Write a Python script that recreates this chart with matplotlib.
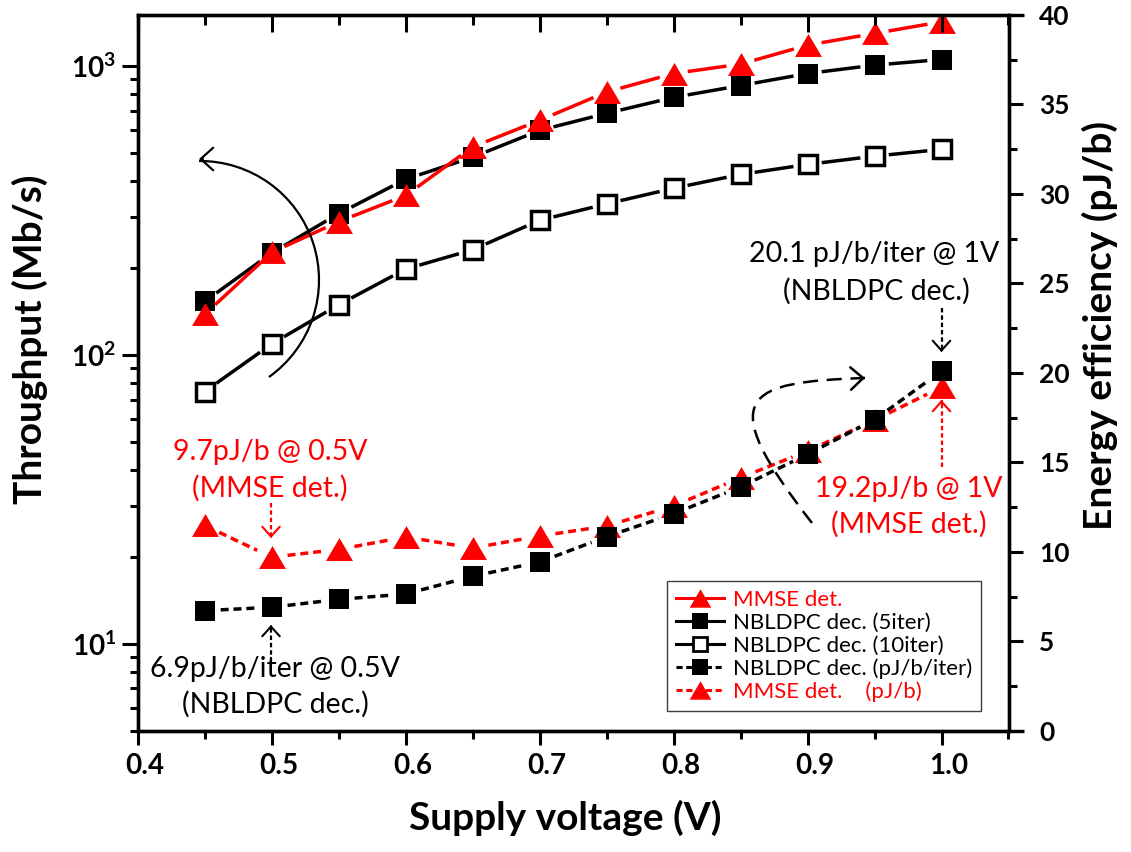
import numpy as np
import matplotlib
matplotlib.use("Agg")
import matplotlib.pyplot as plt
from matplotlib.lines import Line2D
from matplotlib.patches import FancyArrowPatch, PathPatch, ArrowStyle
from matplotlib.path import Path
from matplotlib.transforms import ScaledTranslation
from matplotlib.ticker import MultipleLocator, LogLocator, FuncFormatter, FormatStrFormatter

# ---------------- data ----------------
voltage = [0.45, 0.50, 0.55, 0.60, 0.65, 0.70, 0.75, 0.80, 0.85, 0.90, 0.95, 1.00]
throughput_mmse = [138, 226, 289, 356, 524, 648, 812, 941, 1014, 1180, 1295, 1421]
throughput_5iter = [153, 225, 308, 405, 483, 598, 685, 778, 855, 941, 1006, 1052]
throughput_10iter = [74.6, 109, 149, 198, 231, 292, 333, 377, 421, 456, 487, 514]
energy_nbldpc = [6.71, 6.90, 7.34, 7.64, 8.63, 9.43, 10.84, 12.13, 13.62, 15.45, 17.38, 20.1]
energy_mmse = [11.47, 9.70, 10.13, 10.83, 10.21, 10.88, 11.44, 12.56, 14.14, 15.63, 17.36, 19.2]
legend_labels = ['MMSE det.', 'NBLDPC dec. (5iter)', 'NBLDPC dec. (10iter)',
                 'NBLDPC dec. (pJ/b/iter)', 'MMSE det.    (pJ/b)']

# ---------------- style ----------------
W, H = 1131, 852
plt.rcParams['font.family'] = ['Lato', 'DejaVu Sans']
plt.rcParams['font.weight'] = 'bold'
plt.rcParams['mathtext.fontset'] = 'custom'
plt.rcParams['mathtext.rm'] = 'Lato'
plt.rcParams['mathtext.bf'] = 'Lato:bold'
plt.rcParams['axes.linewidth'] = 2.4

RED = '#ff0000'
fig = plt.figure(figsize=(W / 100, H / 100), dpi=100)
L, R, T, B = 137.7, 1008.5, 15.0, 730.7
ax = fig.add_axes([L / W, 1 - B / H, (R - L) / W, (B - T) / H])
ax2 = ax.twinx()

ax.set_xlim(0.4, 1.05)
ax.set_yscale('log')
ax.set_ylim(5, 1500)
ax2.set_ylim(0, 40)

ax.xaxis.set_major_locator(MultipleLocator(0.1))
ax.xaxis.set_minor_locator(MultipleLocator(0.05))
ax.xaxis.set_major_formatter(FormatStrFormatter('%.1f'))
ax.yaxis.set_major_locator(LogLocator(base=10, numticks=10))
ax.yaxis.set_minor_locator(LogLocator(base=10, subs=np.arange(2, 10), numticks=30))
ax.yaxis.set_major_formatter(FuncFormatter(lambda v, p: r'$\mathbf{10}^{%d}$' % round(np.log10(v))))
ax2.yaxis.set_major_locator(MultipleLocator(5))
ax2.yaxis.set_minor_locator(MultipleLocator(2.5))
ax2.yaxis.set_major_formatter(FormatStrFormatter('%d'))

ax.tick_params(axis='x', which='major', direction='out', length=10, width=2.2, labelsize=20, pad=6, top=False)
ax.tick_params(axis='x', which='minor', direction='out', length=5.5, width=2.2, top=False)
ax.tick_params(axis='y', which='major', direction='out', length=11.5, width=2.2, labelsize=20, pad=4)
ax.tick_params(axis='y', which='minor', direction='out', length=6, width=2.2)
ax2.tick_params(axis='y', which='major', direction='out', length=10, width=2.2, labelsize=19, pad=12)
ax2.tick_params(axis='y', which='minor', direction='out', length=5.5, width=2.2)
ax2.xaxis.set_visible(True)
ax2.tick_params(axis='x', which='major', direction='in', length=12.5, width=2.2,
                top=True, bottom=False, labeltop=False, labelbottom=False)
ax2.tick_params(axis='x', which='minor', direction='in', length=7, width=2.2,
                top=True, bottom=False, labeltop=False, labelbottom=False)

for sp in list(ax.spines.values()) + list(ax2.spines.values()):
    sp.set_linewidth(2.4)

# Origin-style offset of the x tick labels
for t in ax.xaxis.get_major_ticks():
    t.label1.set_transform(t.label1.get_transform() + ScaledTranslation(7 / 100, 0, fig.dpi_scale_trans))

# top / bottom frame lines extend a bit past the right axis
for yy in (0, 1):
    ax2.add_line(Line2D([1, 1 + 15 / (R - L)], [yy, yy], transform=ax2.transAxes, clip_on=False,
                        color='black', lw=2.4, solid_capstyle='butt'))

TRI = [(-1, -0.85), (1, -0.85), (0, 0.85)]


def gapped_line(axis, xs, ys, gap, **kw):
    pts = axis.transData.transform(np.column_stack([xs, ys]))
    inv = axis.transData.inverted()
    segs = []
    for p, q in zip(pts[:-1], pts[1:]):
        u = (q - p) / np.hypot(*(q - p))
        segs.append(inv.transform(np.array([p + u * gap, q - u * gap])))
        segs.append(np.array([[np.nan, np.nan]]))
    arr = np.vstack(segs)
    axis.plot(arr[:, 0], arr[:, 1], **kw)


GAP = 16
LW = 2.5
# throughput (left axis)
gapped_line(ax, voltage, throughput_10iter, GAP, color='black', lw=LW, zorder=2.0)
ax.plot(voltage, throughput_10iter, ls='none', marker='s', ms=13.1, mfc='white', mec='black', mew=2.5, zorder=2.1)
gapped_line(ax, voltage, throughput_5iter, GAP, color='black', lw=LW, zorder=2.2)
ax.plot(voltage, throughput_5iter, ls='none', marker='s', ms=15, mfc='black', mew=0, zorder=2.3)
gapped_line(ax, voltage, throughput_mmse, GAP, color=RED, lw=LW, zorder=2.4)
ax.plot(voltage, throughput_mmse, ls='none', marker=TRI, ms=19.4, mfc=RED, mew=0, zorder=2.5)

# energy efficiency (right axis)
DASH = (0, (2.3, 1.4))
gapped_line(ax2, voltage, energy_mmse, GAP, color=RED, lw=LW, ls=DASH, zorder=2.0)
ax2.plot(voltage, energy_mmse, ls='none', marker=TRI, ms=19.4, mfc=RED, mew=0, zorder=2.1)
gapped_line(ax2, voltage, energy_nbldpc, GAP, color='black', lw=LW, ls=DASH, zorder=2.2)
ax2.plot(voltage, energy_nbldpc, ls='none', marker='s', ms=15, mfc='black', mew=0, zorder=2.3)


# ---------------- annotations (pixel positions) ----------------
def P(x, y):
    return (x / W, 1 - y / H)


def head(tip, frm, color, lw=1.5, scale=14):
    fig.add_artist(FancyArrowPatch(posA=P(*frm), posB=P(*tip), transform=fig.transFigure,
                                   arrowstyle=ArrowStyle('->', head_length=0.5, head_width=0.45),
                                   mutation_scale=scale, lw=lw, color=color, shrinkA=0, shrinkB=0))


def dotted_arrow(x, y0, y1, color):
    fig.add_artist(Line2D([x / W, x / W], [1 - y0 / H, 1 - y1 / H], transform=fig.transFigure,
                          color=color, lw=1.6, linestyle=(0, (2, 1.3))))
    s = 1 if y1 > y0 else -1
    head((x, y1), (x, y1 - 3 * s), color)


def label(x, y, s, color):
    fig.text(*P(x, y), s, ha='center', va='baseline', fontsize=20.5, color=color, fontweight='normal')


label(270, 460, '9.7pJ/b @ 0.5V', RED)
label(270, 497, '(MMSE det.)', RED)
dotted_arrow(271, 503, 538, RED)

label(275, 677, '6.9pJ/b/iter @ 0.5V', 'black')
label(275, 713, '(NBLDPC dec.)', 'black')
dotted_arrow(271, 662, 625, 'black')

label(874, 262, '20.1 pJ/b/iter @ 1V', 'black')
label(876, 300, '(NBLDPC dec.)', 'black')
dotted_arrow(941.5, 308, 352, 'black')

label(909, 497, '19.2pJ/b @ 1V', RED)
label(909, 533, '(MMSE det.)', RED)
dotted_arrow(941.5, 467, 400, RED)

# solid arc arrow (throughput -> left axis)
cx, cy, rr = 200.0, H - 280.0, 119.0
arc = Path.arc(-54.6, 90.5)
av = arc.vertices * rr + np.array([cx, cy])
av = av / np.array([W, H])
fig.add_artist(PathPatch(Path(av, arc.codes), transform=fig.transFigure, fill=False, lw=1.6, color='black'))
head((199.0, 159.0), (203.0, 159.0), 'black', lw=1.6, scale=18)

# dashed curved arrow (energy -> right axis)
bz = [(812, 523), (712, 395), (745, 382), (865, 378)]
bv = np.array([P(*p) for p in bz])
fig.add_artist(PathPatch(Path(bv, [Path.MOVETO, Path.CURVE4, Path.CURVE4, Path.CURVE4]),
                         transform=fig.transFigure, fill=False, lw=1.8, color='black',
                         linestyle=(0, (6, 3.5))))
head((865, 378), (861, 378.15), 'black', lw=1.8, scale=18)

# axis labels
fig.text(*P(565, 830), 'Supply voltage (V)', ha='center', va='baseline', fontsize=28, fontweight='bold')
fig.text(*P(42, 339), 'Throughput (Mb/s)', rotation=90, rotation_mode='anchor', ha='center',
         va='baseline', fontsize=28, fontweight='bold')
fig.text(*P(1112, 325), 'Energy efficiency (pJ/b)', rotation=90, rotation_mode='anchor', ha='center',
         va='baseline', fontsize=28, fontweight='bold')

# legend
handles = [
    Line2D([], [], color=RED, lw=2.2, marker=TRI, ms=15.6, mew=0),
    Line2D([], [], color='black', lw=2.2, marker='s', ms=12, mew=0),
    Line2D([], [], color='black', lw=2.2, marker='s', ms=10, mfc='white', mec='black', mew=2),
    Line2D([], [], color='black', lw=2.2, ls=(0, (2, 1.2)), marker='s', ms=12, mew=0),
    Line2D([], [], color=RED, lw=2.2, ls=(0, (2, 1.2)), marker=TRI, ms=15.6, mew=0),
]
leg = ax2.legend(handles, legend_labels, loc='lower right',
                 bbox_to_anchor=((981 - L) / (R - L), (B - 711) / (B - T)), borderaxespad=0,
                 prop={'family': 'Lato', 'weight': 'normal', 'size': 16}, frameon=True, fancybox=False,
                 edgecolor='#404040', framealpha=1, handlelength=2.15, handletextpad=0.4,
                 labelspacing=0.12, borderpad=0.4)
leg.get_frame().set_linewidth(1.0)
for t, c in zip(leg.get_texts(), [RED, 'black', 'black', 'black', RED]):
    t.set_color(c)

fig.savefig('out.png', dpi=100)
